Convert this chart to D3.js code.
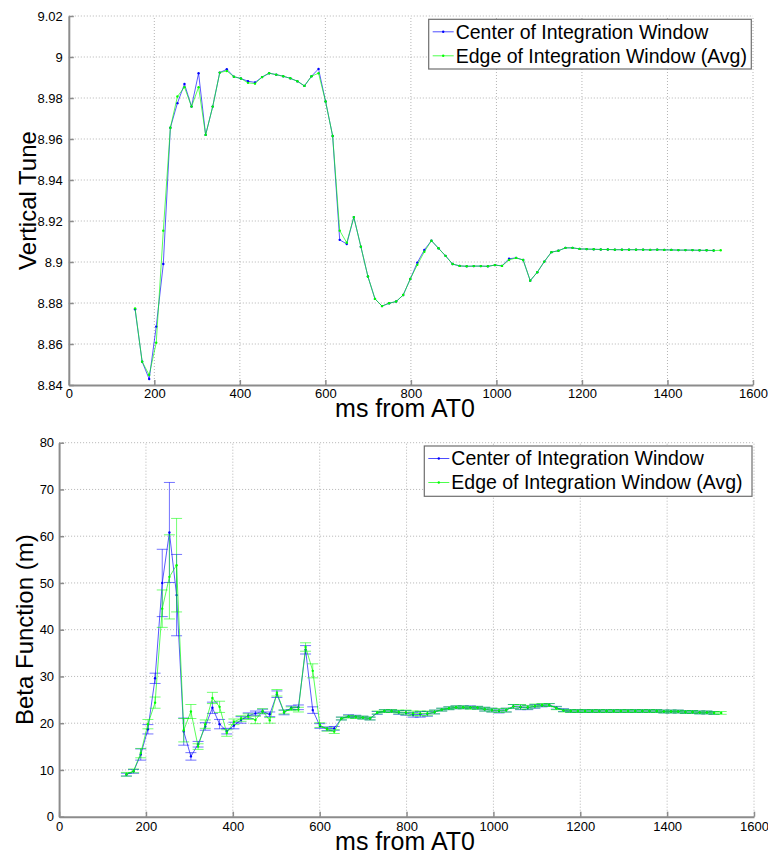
<!DOCTYPE html>
<html>
<head>
<meta charset="utf-8">
<script src="https://cdn.jsdelivr.net/npm/d3@7"></script>
<style>
  body { margin: 0; background: #fff; }
  svg { display: block; font-family: "Liberation Sans", Arial, sans-serif; }
</style>
</head>
<body>
<svg id="chart" width="768" height="855"></svg>
<script>
// sample times (ms from AT0), shared by both panels
const times = [155, 171.5, 188, 204.5, 221, 237.5, 254, 270.5, 287, 303.5,
  320, 336.5, 353, 369.5, 386, 402.5, 419, 435.5, 452, 468.5,
  485, 501.5, 518, 534.5, 551, 567.5, 584, 600.5, 617, 633.5,
  650, 666.5, 683, 699.5, 716, 732.5, 749, 765.5, 782, 798.5,
  815, 831.5, 848, 864.5, 881, 897.5, 914, 930.5, 947, 963.5,
  980, 996.5, 1013, 1029.5, 1046, 1062.5, 1079, 1095.5, 1112, 1128.5,
  1145, 1161.5, 1178, 1194.5, 1211, 1227.5, 1244, 1260.5, 1277, 1293.5,
  1310, 1326.5, 1343, 1359.5, 1376, 1392.5, 1409, 1425.5, 1442, 1458.5,
  1475, 1491.5, 1508, 1524.5];

// top panel: vertical tune
const tuneCenter = [8.8769, 8.8514, 8.8429, 8.8685, 8.8990, 8.9655, 8.9775, 8.9868, 8.9758, 8.9921,
  8.9620, 8.9758, 8.9924, 8.9940, 8.9904, 8.9895, 8.9882, 8.9876, 8.9902, 8.9921,
  8.9914, 8.9906, 8.9896, 8.9882, 8.9859, 8.9906, 8.9942, 8.9783, 8.9615, 8.9108,
  8.9088, 8.9219, 8.9075, 8.8929, 8.8820, 8.8785, 8.8799, 8.8807, 8.8839, 8.8917,
  8.8997, 8.9059, 8.9104, 8.9067, 8.9030, 8.8990, 8.8981, 8.8979, 8.8980, 8.8980,
  8.8979, 8.8985, 8.8981, 8.9016, 8.9020, 8.9010, 8.8909, 8.8950, 8.9002, 8.9048,
  8.9055, 8.9069, 8.9069, 8.9064, 8.9063, 8.9062, 8.9061, 8.9061, 8.9060, 8.9060,
  8.9060, 8.9060, 8.9060, 8.9059, 8.9060, 8.9059, 8.9059, 8.9058, 8.9058, 8.9058,
  8.9057, 8.9057, 8.9056];
const tuneEdge = [8.8774, 8.8514, 8.8449, 8.8606, 8.9153, 8.9655, 8.9807, 8.9853, 8.9758, 8.9853,
  8.9620, 8.9758, 8.9924, 8.9932, 8.9904, 8.9895, 8.9874, 8.9870, 8.9902, 8.9921,
  8.9914, 8.9906, 8.9896, 8.9882, 8.9859, 8.9906, 8.9921, 8.9783, 8.9615, 8.9153,
  8.9094, 8.9219, 8.9075, 8.8929, 8.8820, 8.8785, 8.8799, 8.8807, 8.8839, 8.8917,
  8.8986, 8.9050, 8.9104, 8.9067, 8.9030, 8.8990, 8.8981, 8.8979, 8.8980, 8.8980,
  8.8979, 8.8985, 8.8981, 8.9010, 8.9020, 8.9010, 8.8909, 8.8950, 8.9002, 8.9048,
  8.9055, 8.9069, 8.9069, 8.9064, 8.9063, 8.9062, 8.9061, 8.9061, 8.9060, 8.9060,
  8.9060, 8.9060, 8.9060, 8.9059, 8.9060, 8.9059, 8.9059, 8.9058, 8.9058, 8.9058,
  8.9057, 8.9057, 8.9056, 8.9057];

// bottom panel: beta function with error bars
const betaCenter = [9.0, 9.7, 13.3, 18.7, 29.6, 50.0, 60.8, 47.4, 18.2, 12.9,
  15.5, 19.3, 23.3, 19.8, 18.3, 19.5, 20.7, 21.6, 22.1, 22.5,
  21.9, 26.2, 22.3, 23.3, 23.4, 35.7, 22.8, 19.4, 18.8, 18.9,
  21.0, 21.5, 21.4, 21.2, 21.0, 22.2, 22.6, 22.6, 22.3, 22.2,
  21.8, 21.9, 22.0, 22.4, 22.9, 23.2, 23.4, 23.4, 23.4, 23.3,
  23.0, 22.8, 22.6, 22.8, 23.6, 23.4, 23.3, 23.6, 23.8, 23.9,
  23.3, 22.8, 22.6, 22.6, 22.6, 22.6, 22.6, 22.6, 22.6, 22.6,
  22.6, 22.6, 22.6, 22.6, 22.6, 22.5, 22.5, 22.5, 22.4, 22.4,
  22.3, 22.3, 22.2];
const betaCenterErr = [0.3, 0.4, 1.2, 1.0, 1.1, 7.2, 10.7, 8.7, 2.9, 0.8,
  0.6, 0.8, 1.2, 1.0, 0.6, 0.7, 0.7, 0.6, 0.5, 0.5,
  0.5, 0.7, 0.5, 0.4, 0.5, 0.9, 0.7, 0.5, 0.4, 0.4,
  0.3, 0.3, 0.3, 0.3, 0.3, 0.3, 0.3, 0.3, 0.4, 0.5,
  0.5, 0.6, 0.5, 0.4, 0.3, 0.3, 0.3, 0.3, 0.3, 0.3,
  0.4, 0.4, 0.4, 0.4, 0.4, 0.5, 0.4, 0.4, 0.3, 0.3,
  0.3, 0.3, 0.3, 0.3, 0.3, 0.3, 0.3, 0.3, 0.3, 0.3,
  0.3, 0.3, 0.3, 0.3, 0.3, 0.3, 0.3, 0.3, 0.3, 0.3,
  0.3, 0.3, 0.3];
const betaEdge = [9.07, 9.8, 13.6, 19.8, 24.4, 44.5, 51.3, 53.8, 18.5, 22.5,
  15.0, 19.8, 25.4, 23.5, 17.9, 20.3, 21.0, 21.4, 20.7, 22.6,
  20.6, 26.5, 22.4, 23.1, 22.9, 36.3, 31.2, 19.6, 18.7, 18.2,
  21.0, 21.4, 21.3, 21.2, 21.0, 22.3, 22.6, 22.6, 22.4, 22.3,
  22.1, 22.1, 22.1, 22.4, 22.9, 23.2, 23.4, 23.4, 23.3, 23.3,
  23.0, 22.8, 22.7, 22.8, 23.6, 23.5, 23.4, 23.7, 23.9, 23.9,
  23.2, 22.7, 22.6, 22.6, 22.6, 22.6, 22.6, 22.6, 22.6, 22.6,
  22.6, 22.6, 22.6, 22.6, 22.6, 22.5, 22.5, 22.5, 22.4, 22.4,
  22.3, 22.3, 22.2, 22.2];
const betaEdgeErr = [0.4, 0.4, 1.0, 1.0, 1.2, 4.0, 9.0, 10.0, 2.5, 1.5,
  0.6, 0.9, 1.2, 1.2, 0.7, 0.6, 0.6, 0.6, 0.8, 0.5,
  0.6, 0.7, 0.4, 0.4, 0.5, 0.9, 1.5, 0.5, 0.4, 0.4,
  0.3, 0.3, 0.3, 0.3, 0.3, 0.3, 0.3, 0.3, 0.4, 0.5,
  0.5, 0.5, 0.5, 0.4, 0.3, 0.3, 0.3, 0.3, 0.3, 0.3,
  0.4, 0.4, 0.4, 0.4, 0.4, 0.5, 0.4, 0.4, 0.3, 0.3,
  0.3, 0.3, 0.3, 0.3, 0.3, 0.3, 0.3, 0.3, 0.3, 0.3,
  0.3, 0.3, 0.3, 0.3, 0.3, 0.3, 0.3, 0.3, 0.3, 0.3,
  0.3, 0.3, 0.3, 0.3];

const xTicks = [0, 200, 400, 600, 800, 1000, 1200, 1400, 1600];
const tuneTicks = [8.84, 8.86, 8.88, 8.9, 8.92, 8.94, 8.96, 8.98, 9, 9.02];
const tuneLabels = ["8.84", "8.86", "8.88", "8.9", "8.92", "8.94", "8.96", "8.98", "9", "9.02"];
const betaTicks = [0, 10, 20, 30, 40, 50, 60, 70, 80];
const legendNames = ["Center of Integration Window", "Edge of Integration Window (Avg)"];

const colors = { center: "#0000ff", edge: "#00ff00" };
const axisGrey = "#8c8c8c";

const svg = d3.select("#chart");

function drawFrame(p) {
  const x = d3.scaleLinear().domain([0, 1600]).range([p.x0, p.x1]);
  const y = d3.scaleLinear().domain([p.yTicks[0], p.yTicks[p.yTicks.length - 1]]).range([p.y0, p.y1]);
  const g = svg.append("g");

  // dotted grid
  g.append("g").selectAll("line")
    .data(xTicks.slice(1))
    .join("line")
    .attr("x1", (d) => x(d)).attr("x2", (d) => x(d))
    .attr("y1", p.y0).attr("y2", p.y1)
    .attr("stroke", "#b4b4b4").attr("stroke-dasharray", "1,2");
  g.append("g").selectAll("line")
    .data(p.yTicks.slice(1))
    .join("line")
    .attr("x1", p.x0).attr("x2", p.x1)
    .attr("y1", (d) => y(d)).attr("y2", (d) => y(d))
    .attr("stroke", "#b4b4b4").attr("stroke-dasharray", "1,2");

  const styleAxis = (sel) => {
    sel.attr("font-size", 13).attr("font-family", null);
    sel.select(".domain").attr("stroke", axisGrey).attr("stroke-width", 2);
    sel.selectAll(".tick line").attr("stroke", axisGrey).attr("stroke-width", 1.5);
    sel.selectAll(".tick text").attr("fill", "#000");
  };

  g.append("g")
    .attr("transform", `translate(0,${p.y0})`)
    .call(d3.axisBottom(x).tickValues(xTicks).tickFormat(d3.format("d"))
      .tickSizeInner(-5).tickSizeOuter(0).tickPadding(p.xPad))
    .call(styleAxis);

  g.append("g")
    .attr("transform", `translate(${p.x0},0)`)
    .call(d3.axisLeft(y).tickValues(p.yTicks).tickFormat((d, i) => p.yLabels[i])
      .tickSizeInner(-5).tickSizeOuter(0).tickPadding(p.yPad))
    .call(styleAxis);

  // axis titles
  svg.append("text")
    .attr("x", 405).attr("y", p.xTitleY)
    .attr("text-anchor", "middle")
    .attr("font-size", 25)
    .text("ms from AT0");
  svg.append("text")
    .attr("transform", `translate(${p.yTitleX},${(p.y0 + p.y1) / 2}) rotate(-90)`)
    .attr("text-anchor", "middle")
    .attr("font-size", 24)
    .text(p.yTitle);

  return { x, y };
}

function drawSeries(sc, values, errs, color) {
  const g = svg.append("g");
  const pts = values.map((v, i) => ({ t: times[i], v, e: errs ? errs[i] : 0 }));

  if (errs) {
    const bars = g.append("g").attr("stroke", color).attr("stroke-opacity", 0.55);
    bars.selectAll(".stem").data(pts).join("line")
      .attr("x1", (d) => sc.x(d.t)).attr("x2", (d) => sc.x(d.t))
      .attr("y1", (d) => sc.y(d.v - d.e)).attr("y2", (d) => sc.y(d.v + d.e));
    for (const sign of [-1, 1]) {
      bars.append("g").selectAll("line").data(pts).join("line")
        .attr("x1", (d) => sc.x(d.t) - 5.5).attr("x2", (d) => sc.x(d.t) + 5.5)
        .attr("y1", (d) => sc.y(d.v + sign * d.e)).attr("y2", (d) => sc.y(d.v + sign * d.e));
    }
  }

  const line = d3.line().x((d) => sc.x(d.t)).y((d) => sc.y(d.v));
  g.append("path")
    .datum(pts)
    .attr("d", line)
    .attr("fill", "none")
    .attr("stroke", color)
    .attr("stroke-opacity", 0.65)
    .attr("stroke-width", 1);

  g.selectAll("circle").data(pts).join("circle")
    .attr("cx", (d) => sc.x(d.t)).attr("cy", (d) => sc.y(d.v))
    .attr("r", 1.2)
    .attr("fill", color);
}

function drawLegend(box) {
  const g = svg.append("g");
  g.append("rect")
    .attr("x", box.x).attr("y", box.y).attr("width", box.w).attr("height", box.h)
    .attr("fill", "#fff").attr("stroke", "#6e6e6e").attr("stroke-width", 1.2);
  [colors.center, colors.edge].forEach((c, i) => {
    const cy = box.y + 12.5 + i * 24;
    g.append("line")
      .attr("x1", box.x + 4).attr("x2", box.x + 25)
      .attr("y1", cy).attr("y2", cy)
      .attr("stroke", c).attr("stroke-opacity", 0.7);
    g.append("circle").attr("cx", box.x + 14.5).attr("cy", cy).attr("r", 1.2).attr("fill", c);
    g.append("text")
      .attr("x", box.x + 27).attr("y", cy)
      .attr("dy", "0.35em")
      .attr("font-size", 19.5)
      .text(legendNames[i]);
  });
}

// top panel
const tunePanel = drawFrame({
  x0: 68.8, x1: 753, y0: 385, y1: 16,
  yTicks: tuneTicks, yLabels: tuneLabels,
  xPad: 4, yPad: 6, xTitleY: 417, yTitleX: 36, yTitle: "Vertical Tune",
});
drawSeries(tunePanel, tuneCenter, null, colors.center);
drawSeries(tunePanel, tuneEdge, null, colors.edge);
drawLegend({ x: 428.7, y: 19.3, w: 322.6, h: 49.7 });

// bottom panel
const betaPanel = drawFrame({
  x0: 59.1, x1: 754, y0: 816.7, y1: 442.7,
  yTicks: betaTicks, yLabels: betaTicks.map(String),
  xPad: 5, yPad: 5, xTitleY: 850, yTitleX: 33, yTitle: "Beta Function (m)",
});
drawSeries(betaPanel, betaCenter, betaCenterErr, colors.center);
drawSeries(betaPanel, betaEdge, betaEdgeErr, colors.edge);
drawLegend({ x: 424.3, y: 446, w: 327.7, h: 50.3 });
</script>
</body>
</html>
